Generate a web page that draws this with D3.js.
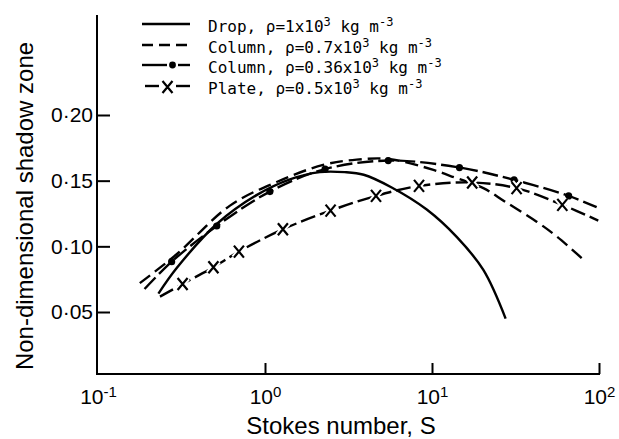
<!DOCTYPE html>
<html>
<head>
<meta charset="utf-8">
<script src="https://cdnjs.cloudflare.com/ajax/libs/d3/7.8.5/d3.min.js"></script>
<style>
body { margin: 0; background: #fff; }
</style>
</head>
<body>
<div id="chart"></div>
<script>
// values: Stokes number S and non-dimensional shadow zone
var dropS = [0.23, 0.296, 0.514, 0.89, 1.41, 2.13, 3.0, 3.9, 5.7, 9.3, 14.1, 20.3, 27.6];
var dropV = [0.064, 0.0835, 0.117, 0.139, 0.151, 0.1565, 0.1565, 0.1545, 0.145, 0.128, 0.107, 0.082, 0.045];

var col07S = [0.178, 0.296, 0.617, 1.175, 2.23, 3.54, 5.5, 10.2, 12.8, 20.3, 27.4, 42.3, 56, 80.5];
var col07V = [0.072, 0.094, 0.131, 0.149, 0.162, 0.166, 0.1665, 0.1582, 0.1537, 0.1443, 0.134, 0.1188, 0.1074, 0.090];

var col36S = [0.19, 0.276, 0.514, 1.07, 2.29, 5.47, 14.6, 31, 65.8, 96.8];
var col36V = [0.0675, 0.0883, 0.1155, 0.1417, 0.1588, 0.1653, 0.160, 0.1506, 0.1384, 0.1298];
var col36Mark = [0, 1, 1, 1, 1, 1, 1, 1, 1, 0];

var plateS = [0.235, 0.321, 0.491, 0.698, 1.28, 2.47, 4.62, 8.36, 17.4, 32.1, 60.3, 99];
var plateV = [0.0617, 0.0713, 0.0841, 0.096, 0.113, 0.1272, 0.1384, 0.146, 0.1486, 0.1443, 0.1316, 0.1196];
var plateMark = [0, 1, 1, 1, 1, 1, 1, 1, 1, 1, 1, 0];

var xTicks = [0.1, 1, 10, 100];
var xExp = ["-1", "0", "1", "2"];
var yTicks = [0.05, 0.10, 0.15, 0.20];

var legendNames = ["Drop", "Column", "Column", "Plate"];
var legendRho = ["1", "0.7", "0.36", "0.5"];

var width = 619, height = 439;

var svg = d3.select("#chart")
    .append("svg")
    .attr("width", width)
    .attr("height", height);

var x = d3.scaleLog()
    .domain([0.1, 100])
    .range([98, 599]);
var y = d3.scaleLinear()
    .domain([0.05, 0.20])
    .range([312, 115]);

var axisY0 = 374, axisX0 = 97;

// axes lines
svg.append("line")
    .attr("x1", axisX0).attr("x2", axisX0)
    .attr("y1", 15).attr("y2", axisY0 + 1)
    .attr("stroke", "#000").attr("stroke-width", 2);
svg.append("line")
    .attr("x1", axisX0).attr("x2", x(100) + 1)
    .attr("y1", axisY0).attr("y2", axisY0)
    .attr("stroke", "#000").attr("stroke-width", 2);

// y axis ticks (inside)
var gy = svg.append("g")
    .attr("transform", "translate(" + axisX0 + ",0)")
    .call(d3.axisLeft(y).tickValues(yTicks).tickSize(-13).tickPadding(4)
        .tickFormat(function (d) { return d3.format(".2f")(d).replace(".", "\u00b7"); }));
gy.select(".domain").remove();
gy.selectAll(".tick line").attr("stroke-width", 2);
gy.selectAll("text")
    .attr("font-family", "Liberation Sans, Arial, sans-serif")
    .attr("font-size", 21)
    .attr("fill", "#000");

// x axis ticks (inside) with power-of-ten labels
var gx = svg.append("g")
    .attr("transform", "translate(0," + axisY0 + ")")
    .call(d3.axisBottom(x).tickValues(xTicks).tickSize(-11).tickPadding(15).tickFormat(""));
gx.select(".domain").remove();
gx.selectAll(".tick line").attr("stroke-width", 2);
gx.selectAll(".tick line").filter(function (d) { return d === 0.1; }).remove();
gx.selectAll(".tick text")
    .attr("font-family", "Liberation Sans, Arial, sans-serif")
    .attr("font-size", 21)
    .attr("fill", "#000")
    .each(function (d, i) {
        var t = d3.select(this);
        t.append("tspan").text("10");
        t.append("tspan").attr("dy", "-0.45em").attr("font-size", 15).text(xExp[i]);
    });

// axis titles
svg.append("text")
    .attr("x", 341)
    .attr("y", 434)
    .attr("text-anchor", "middle")
    .attr("font-family", "Liberation Sans, Arial, sans-serif")
    .attr("font-size", 24)
    .text("Stokes number, S");
svg.append("text")
    .attr("transform", "translate(33,206) rotate(-90)")
    .attr("text-anchor", "middle")
    .attr("font-family", "Liberation Sans, Arial, sans-serif")
    .attr("font-size", 24)
    .text("Non-dimensional shadow zone");

function pts(sArr, vArr) {
    return sArr.map(function (s, i) { return { s: s, v: vArr[i] }; });
}

var line = d3.line()
    .x(function (d) { return x(d.s); })
    .y(function (d) { return y(d.v); })
    .curve(d3.curveCatmullRom.alpha(0.5));

var series = [
    { data: pts(dropS, dropV), dash: null },
    { data: pts(col07S, col07V), dash: "13,6" },
    { data: pts(col36S, col36V), dash: "16,5" },
    { data: pts(plateS, plateV), dash: "15,5" }
];

series.forEach(function (sr) {
    svg.append("path")
        .datum(sr.data)
        .attr("fill", "none")
        .attr("stroke", "#000")
        .attr("stroke-width", 2.4)
        .attr("stroke-dasharray", sr.dash)
        .attr("d", line);
});

// markers
var xMark = "M-5,-6L5,6M5,-6L-5,6";

svg.append("g")
    .selectAll("circle")
    .data(pts(col36S, col36V).filter(function (d, i) { return col36Mark[i]; }))
    .enter()
    .append("circle")
    .attr("cx", function (d) { return x(d.s); })
    .attr("cy", function (d) { return y(d.v); })
    .attr("r", 3.6)
    .attr("fill", "#000");

var px = svg.append("g")
    .selectAll("g")
    .data(pts(plateS, plateV).filter(function (d, i) { return plateMark[i]; }))
    .enter()
    .append("g")
    .attr("transform", function (d) { return "translate(" + x(d.s) + "," + y(d.v) + ")"; });
px.append("path").attr("d", xMark).attr("stroke", "#fff").attr("stroke-width", 6);
px.append("path").attr("d", xMark).attr("stroke", "#000").attr("stroke-width", 2.2);

// legend
var legendY = [24, 45, 65, 86];
legendNames.forEach(function (name, i) {
    var ly = legendY[i];
    var g = svg.append("g");
    if (i === 0) {
        g.append("line").attr("x1", 142).attr("x2", 190).attr("y1", ly).attr("y2", ly)
            .attr("stroke", "#000").attr("stroke-width", 2.4);
    } else if (i === 1) {
        g.append("line").attr("x1", 142).attr("x2", 190).attr("y1", ly).attr("y2", ly)
            .attr("stroke", "#000").attr("stroke-width", 2.4).attr("stroke-dasharray", "11,6");
    } else if (i === 2) {
        g.append("line").attr("x1", 142).attr("x2", 167).attr("y1", ly).attr("y2", ly)
            .attr("stroke", "#000").attr("stroke-width", 2.4);
        g.append("line").attr("x1", 178).attr("x2", 190).attr("y1", ly).attr("y2", ly)
            .attr("stroke", "#000").attr("stroke-width", 2.4);
        g.append("circle").attr("cx", 172.5).attr("cy", ly).attr("r", 3.4).attr("fill", "#000");
    } else {
        g.append("line").attr("x1", 145).attr("x2", 159).attr("y1", ly).attr("y2", ly)
            .attr("stroke", "#000").attr("stroke-width", 2.4);
        g.append("line").attr("x1", 176).attr("x2", 190).attr("y1", ly).attr("y2", ly)
            .attr("stroke", "#000").attr("stroke-width", 2.4);
        g.append("path").attr("d", xMark).attr("transform", "translate(167.5," + (ly + 1) + ")")
            .attr("stroke", "#000").attr("stroke-width", 2.2);
    }
    var t = g.append("text")
        .attr("x", 208)
        .attr("y", ly + 8)
        .attr("font-family", "DejaVu Sans Mono, monospace")
        .attr("font-size", 16)
        .attr("fill", "#000");
    t.append("tspan").text(name + ", \u03c1=" + legendRho[i] + "x10");
    t.append("tspan").attr("dy", -6).attr("font-size", 12).text("3");
    t.append("tspan").attr("dy", 6).text(" kg m");
    t.append("tspan").attr("dy", -6).attr("font-size", 12).text("-3");
});
</script>
</body>
</html>
